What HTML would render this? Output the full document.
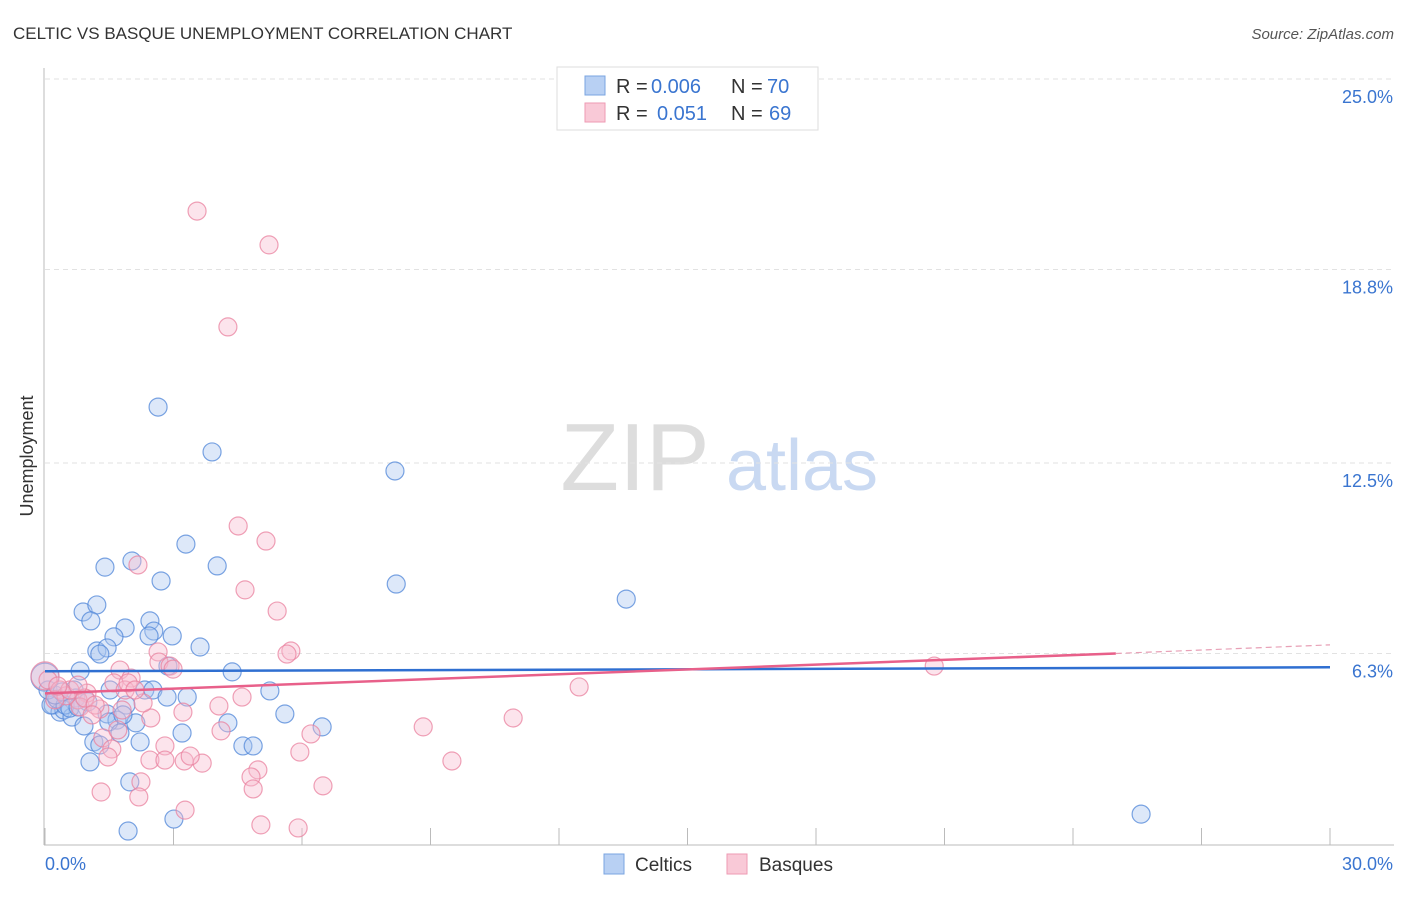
<!DOCTYPE html>
<html><head><meta charset="utf-8"><style>
body{margin:0;background:#fff;font-family:"Liberation Sans",sans-serif;}
svg text{font-family:"Liberation Sans",sans-serif;}
</style></head><body>
<svg id="chart" width="1406" height="892" xmlns="http://www.w3.org/2000/svg">
<text x="13" y="39" font-size="17" fill="#333">CELTIC VS BASQUE UNEMPLOYMENT CORRELATION CHART</text>
<text x="1394" y="39" font-size="15" fill="#555" text-anchor="end" font-style="italic">Source: ZipAtlas.com</text>
<g>
<text x="635" y="490" font-size="96" fill="#ddd" text-anchor="middle" font-family="Liberation Serif, serif">ZIP</text>
<text x="802" y="490" font-size="72" fill="#c9d9f2" text-anchor="middle">atlas</text>
</g>
<g id="grid"></g>
<g id="axes"></g>
<g id="marks"></g>
<text transform="translate(33,456) rotate(-90)" font-size="18" fill="#333" text-anchor="middle">Unemployment</text>
<g>
<rect x="557" y="67" width="261" height="63" fill="#fff" stroke="#ddd"/>
<rect x="585" y="76" width="20" height="19" fill="#b8d0f3" stroke="#7aa4e0"/>
<rect x="585" y="103" width="20" height="19" fill="#f9c9d7" stroke="#ee9ab3"/>
<text x="616" y="93" font-size="20" fill="#333">R =</text>
<text x="651" y="93" font-size="20" fill="#3a75d0">0.006</text>
<text x="731" y="93" font-size="20" fill="#333">N =</text>
<text x="767" y="93" font-size="20" fill="#3a75d0">70</text>
<text x="616" y="120" font-size="20" fill="#333">R =</text>
<text x="657" y="120" font-size="20" fill="#3a75d0">0.051</text>
<text x="731" y="120" font-size="20" fill="#333">N =</text>
<text x="769" y="120" font-size="20" fill="#3a75d0">69</text>
</g>
<g>
<rect x="604" y="854" width="20" height="20" fill="#b8d0f3" stroke="#7aa4e0"/>
<text x="635" y="871" font-size="19" fill="#333">Celtics</text>
<rect x="727" y="854" width="20" height="20" fill="#f9c9d7" stroke="#ee9ab3"/>
<text x="759" y="871" font-size="19" fill="#333">Basques</text>
</g>
</svg>
<script>
const yTicks=[6.3,12.5,18.8,25.0];
const yTickLabels=["6.3%","12.5%","18.8%","25.0%"];
const xTickVals=[0,3,6,9,12,15,18,21,24,27,30];
const celticsX=[2.64,3.90,8.17,3.29,1.40,2.03,4.02,2.71,8.20,13.57,0.89,1.21,1.07,2.45,1.87,2.54,2.97,1.61,2.43,3.62,1.21,1.45,1.28,4.37,0.82,2.87,0,0.19,0.35,0.68,0.72,0.44,0.63,2.33,2.52,2.85,3.32,5.25,1.89,1.45,1.68,2.12,0.91,1.49,5.60,4.27,3.20,6.47,1.75,1.14,2.22,4.62,4.86,1.05,1.98,1.94,3.01,25.59,0.14,0.28,0.47,0.58,0.07,0.23,1.00,0.77,0.40,1.52,1.28,1.82];
const celticsY=[14.32,12.86,12.24,9.86,9.11,9.31,9.15,8.66,8.56,8.07,7.65,7.88,7.36,7.36,7.13,7.03,6.87,6.84,6.87,6.51,6.38,6.48,6.28,5.70,5.73,5.89,5.53,4.62,4.39,5.11,4.85,4.46,4.23,5.11,5.11,4.88,4.88,5.08,4.62,4.33,4.13,4.04,3.94,4.07,4.33,4.04,3.71,3.91,3.71,3.42,3.42,3.29,3.29,2.77,2.12,0.52,0.91,1.07,4.62,4.82,4.62,4.52,5.11,4.95,4.72,4.56,5.05,5.11,3.32,4.30];
const basquesX=[3.55,5.23,4.27,4.51,5.16,2.17,4.67,5.42,2.64,5.74,5.65,1.75,2.01,2.66,2.92,2.99,0,0.07,1.61,1.87,0.98,0.77,0.82,1.28,1.80,2.47,4.60,2.29,3.22,4.06,12.47,20.76,10.93,8.83,4.11,2.80,1.35,1.56,1.47,3.25,3.67,2.45,5.95,6.21,4.97,4.81,2.24,1.31,2.19,4.86,6.49,3.27,5.04,5.91,9.50,0.35,0.49,0.23,0.58,0.93,1.17,1.10,0.30,1.94,2.10,1.70,2.80,3.39,0.77];
const basquesY=[20.70,19.60,16.93,10.45,9.96,9.18,8.37,7.68,6.35,6.38,6.28,5.76,5.50,6.02,5.89,5.79,5.57,5.44,5.34,5.11,5.01,4.79,4.56,4.49,4.46,4.20,4.88,4.69,4.39,4.59,5.21,5.89,4.20,3.91,3.78,3.29,3.55,3.19,2.93,2.80,2.73,2.83,3.09,3.68,2.51,2.28,2.12,1.79,1.63,1.89,1.99,1.20,0.72,0.62,2.80,5.11,4.92,4.79,5.11,4.85,4.62,4.30,5.24,5.34,5.11,3.81,2.83,2.96,5.27];
const celticsTrend=[5.72,5.85];
const basquesTrend=[5.0,6.3,6.58];
const X=v=>45+v*(1330-45)/30;
const Y=v=>847-v*30.72;
const NS="http://www.w3.org/2000/svg";
function mk(parent,tag,attrs){const e=document.createElementNS(NS,tag);for(const k in attrs)e.setAttribute(k,attrs[k]);document.getElementById(parent).appendChild(e);return e;}
yTicks.forEach((t,i)=>{
  const g=mk('grid','line',{x1:45,x2:1394,y1:Y(t),y2:Y(t),stroke:'#e2e2e2','stroke-dasharray':'5,4'});
  
  
  const l=mk('grid','text',{x:1393,y:Y(t)+24,'font-size':18,fill:'#3a75d0','text-anchor':'end'});
  l.textContent=yTickLabels[i];
  
  
});
let a=mk('axes','line',{x1:44,x2:44,y1:68,y2:845,stroke:'#bbb'});


a=mk('axes','line',{x1:44,x2:1394,y1:845,y2:845,stroke:'#bbb'});


xTickVals.forEach(v=>{
  const t=mk('axes','line',{x1:X(v),x2:X(v),y1:828,y2:845,stroke:'#bbb'});
  
  
});
let xl=mk('axes','text',{x:45,y:870,'font-size':18,fill:'#3a75d0'});xl.textContent=xTickVals[0].toFixed(1)+'%';


xl=mk('axes','text',{x:1393,y:870,'font-size':18,fill:'#3a75d0','text-anchor':'end'});xl.textContent=xTickVals[xTickVals.length-1].toFixed(1)+'%';


function pts(xs,ys,fill,stroke,name){
  xs.forEach((x,i)=>{
    const c=mk('marks','circle',{cx:X(x),cy:Y(ys[i]),r:(x===0?14:9),fill:fill,'fill-opacity':0.4,stroke:stroke,'stroke-opacity':0.75,'stroke-width':1.2});
    
    
  });
}
pts(celticsX,celticsY,'#a9c6f0','#4f86d8','celtics-point');
pts(basquesX,basquesY,'#f7bcd0','#e9819f','basques-point');
let tl=mk('marks','line',{x1:X(0),x2:X(30),y1:Y(celticsTrend[0]),y2:Y(celticsTrend[1]),stroke:'#2f6fd1','stroke-width':2.5});


tl=mk('marks','line',{x1:X(0),x2:X(25),y1:Y(basquesTrend[0]),y2:Y(basquesTrend[1]),stroke:'#e8608a','stroke-width':2.5});


tl=mk('marks','line',{x1:X(25),x2:X(30),y1:Y(basquesTrend[1]),y2:Y(basquesTrend[2]),stroke:'#e8a0b6','stroke-width':1.2,'stroke-dasharray':'6,4'});


</script>
</body></html>
